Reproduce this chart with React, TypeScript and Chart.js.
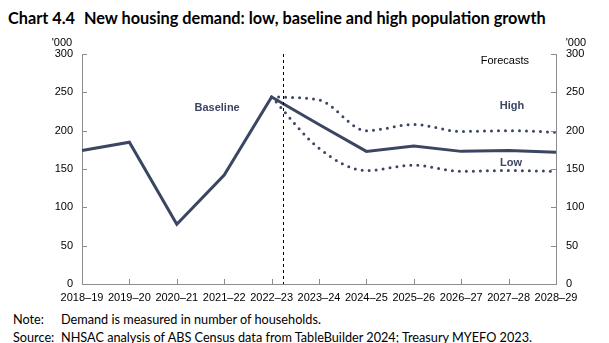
import React, { useEffect, useRef } from "react";
import { Chart, registerables } from "chart.js";

Chart.register(...registerables);

const categories = ["2018–19", "2019–20", "2020–21", "2021–22", "2022–23", "2023–24", "2024–25", "2025–26", "2026–27", "2027–28", "2028–29"];
const baseline = [174, 185, 78, 142, 244, 208, 173, 180, 173, 174, 172];
const high = [null, null, null, null, 244, 240, 200, 208, 199, 200, 198];
const low = [null, null, null, null, 244, 177, 148, 155, 147, 148, 147];
const yTicks = [0, 50, 100, 150, 200, 250, 300];
const forecastStart = 4.23;

const NAVY = "#3B4662";
const AXIS = "#8c8c8c";

const overlayPlugin = {
  id: "overlay",
  afterDatasetsDraw(chart: any) {
    const { ctx, chartArea, scales } = chart;
    const x = scales.x;
    const y = scales.y;
    ctx.save();
    ctx.strokeStyle = AXIS;
    ctx.lineWidth = 1;
    ctx.beginPath();
    yTicks.forEach((v) => {
      const py = Math.round(y.getPixelForValue(v)) + 0.5;
      ctx.moveTo(chartArea.left, py);
      ctx.lineTo(chartArea.left + 5, py);
      ctx.moveTo(chartArea.right, py);
      ctx.lineTo(chartArea.right - 5, py);
    });
    categories.forEach((_, i) => {
      const px = Math.round(x.getPixelForValue(i)) + 0.5;
      ctx.moveTo(px, chartArea.bottom);
      ctx.lineTo(px, chartArea.bottom - 5);
    });
    ctx.stroke();
    const fx = Math.round(x.getPixelForValue(forecastStart)) + 0.5;
    ctx.strokeStyle = "#000";
    ctx.setLineDash([3, 3]);
    ctx.beginPath();
    ctx.moveTo(fx, chartArea.top);
    ctx.lineTo(fx, chartArea.bottom);
    ctx.stroke();
    ctx.setLineDash([]);
    ctx.textAlign = "center";
    ctx.textBaseline = "middle";
    ctx.font = "bold 11px 'Liberation Sans', Arial, sans-serif";
    ctx.fillStyle = NAVY;
    ctx.fillText("Baseline", x.getPixelForValue(2.85), y.getPixelForValue(229));
    ctx.fillText("High", x.getPixelForValue(9.07), y.getPixelForValue(232));
    ctx.fillText("Low", x.getPixelForValue(9.05), y.getPixelForValue(158));
    ctx.font = "11px 'Liberation Sans', Arial, sans-serif";
    ctx.fillStyle = "#000";
    ctx.fillText("Forecasts", x.getPixelForValue(8.92), y.getPixelForValue(291));
    ctx.fillText("'000", chartArea.left - 20, y.getPixelForValue(300) - 11);
    ctx.fillText("'000", chartArea.right + 20, y.getPixelForValue(300) - 11);
    ctx.restore();
  },
};

export default function App() {
  const ref = useRef<HTMLCanvasElement>(null);
  useEffect(() => {
    document.body.style.margin = "0";
    const font = { family: "'Liberation Sans', Arial, sans-serif", size: 11 };
    const chart = new Chart(ref.current!, {
      type: "line",
      data: {
        labels: categories,
        datasets: [
          {
            label: "Baseline",
            data: baseline,
            borderColor: NAVY,
            borderWidth: 3,
            pointRadius: 0,
            tension: 0,
            borderJoinStyle: "miter",
          },
          {
            label: "High",
            data: high,
            borderColor: NAVY,
            borderWidth: 3,
            borderDash: [0, 7],
            borderCapStyle: "round",
            pointRadius: 0,
            cubicInterpolationMode: "monotone",
          },
          {
            label: "Low",
            data: low,
            borderColor: NAVY,
            borderWidth: 3,
            borderDash: [0, 7],
            borderCapStyle: "round",
            pointRadius: 0,
            cubicInterpolationMode: "monotone",
          },
        ],
      },
      options: {
        animation: false,
        responsive: false,
        maintainAspectRatio: false,
        layout: { padding: { top: 54, left: 0, right: 0, bottom: 0 } },
        plugins: { legend: { display: false }, tooltip: { enabled: false } },
        scales: {
          x: {
            offset: false,
            grid: { display: false, drawTicks: false },
            border: { display: true, color: AXIS, width: 1 },
            ticks: { color: "#000", font, padding: 7, maxRotation: 0, autoSkip: false },
            afterFit: (s: any) => { s.height = 21; },
          },
          y: {
            position: "left",
            min: 0,
            max: 300,
            grid: { display: false, drawTicks: false },
            border: { display: true, color: AXIS, width: 1 },
            ticks: { stepSize: 50, color: "#000", font, padding: 9 },
            afterFit: (s: any) => { s.width = 82; },
          },
          y2: {
            position: "right",
            min: 0,
            max: 300,
            grid: { display: false, drawTicks: false },
            border: { display: true, color: AXIS, width: 1 },
            ticks: { stepSize: 50, color: "#000", font, padding: 10 },
            afterFit: (s: any) => { s.width = 53; },
          },
        },
      },
      plugins: [overlayPlugin],
    } as any);
    return () => chart.destroy();
  }, []);

  const noteStyle: React.CSSProperties = {
    position: "absolute",
    fontFamily: "Lato, 'Open Sans', sans-serif",
    fontSize: 12.7,
    lineHeight: "16px",
    color: "#000",
    whiteSpace: "nowrap",
  };
  const titleStyle: React.CSSProperties = {
    position: "absolute",
    top: 8,
    fontFamily: "Lato, 'Open Sans', sans-serif",
    fontWeight: 700,
    fontSize: 16.3,
    lineHeight: "20px",
    whiteSpace: "nowrap",
    color: "#000",
  };

  return (
    <div style={{ position: "relative", width: 609, height: 343, background: "#fff" }}>
      <div style={{ ...titleStyle, left: 8 }}>Chart 4.4</div>
      <div style={{ ...titleStyle, left: 84 }}>New housing demand: low, baseline and high population growth</div>
      <canvas ref={ref} width={609} height={305} style={{ position: "absolute", left: 0, top: 0 }} />
      <div style={{ ...noteStyle, left: 13, top: 311 }}>Note:</div>
      <div style={{ ...noteStyle, left: 61, top: 311 }}>Demand is measured in number of households.</div>
      <div style={{ ...noteStyle, left: 13, top: 329 }}>Source:</div>
      <div style={{ ...noteStyle, left: 61, top: 329 }}>NHSAC analysis of ABS Census data from TableBuilder 2024; Treasury MYEFO 2023.</div>
    </div>
  );
}
